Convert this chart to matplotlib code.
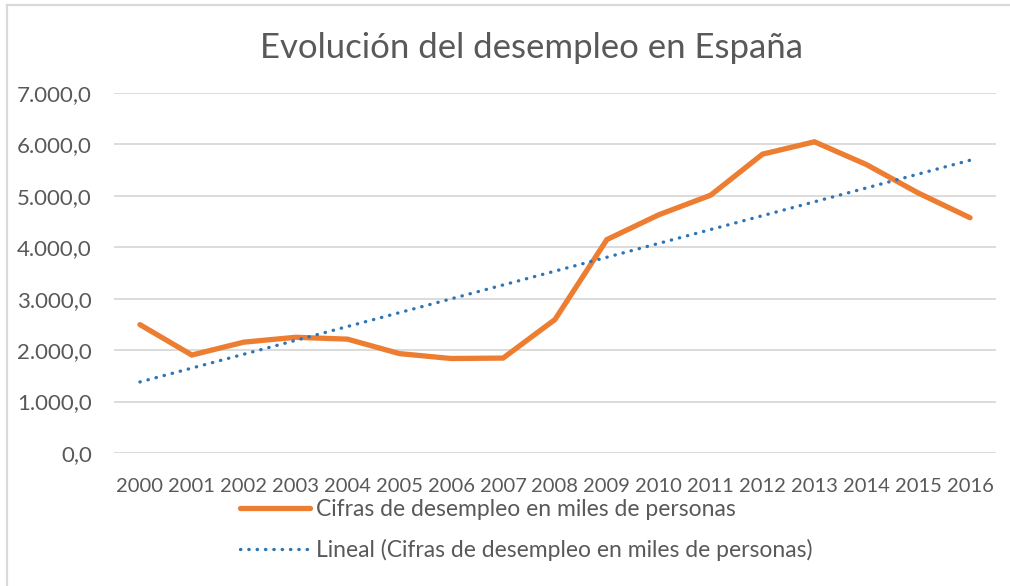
import numpy as np
import matplotlib
matplotlib.use('Agg')
from matplotlib import pyplot as plt
from matplotlib.lines import Line2D
from matplotlib.ticker import FuncFormatter

# Data: unemployment in Spain (thousands of people)
years = [2000, 2001, 2002, 2003, 2004, 2005, 2006, 2007, 2008,
         2009, 2010, 2011, 2012, 2013, 2014, 2015, 2016]
unemployed = [2496, 1905, 2155, 2250, 2214, 1933, 1837, 1846, 2596,
              4150, 4632, 5013, 5811, 6051, 5610, 5056, 4574]
y_ticks = [0, 1000, 2000, 3000, 4000, 5000, 6000, 7000]

series_label = 'Cifras de desempleo en miles de personas'
trend_label = 'Lineal (Cifras de desempleo en miles de personas)'
title = 'Evolución del desempleo en España'

orange = '#ED7D31'
blue = '#2E75B6'
text_gray = '#595959'
grid_gray = '#D9D9D9'
dots = (0, (0.1, 2.4))

plt.rcParams['font.family'] = ['Lato', 'DejaVu Sans']

W, H = 1010, 586
fig = plt.figure(figsize=(W / 100, H / 100), dpi=100)
ax = fig.add_axes([114 / W, 1 - 453 / H, (996 - 114) / W, (453 - 93) / H])

x = np.arange(len(years))
ax.plot(x, unemployed, color=orange, lw=3.8, solid_capstyle='round',
        solid_joinstyle='miter', zorder=3)

# linear trendline fitted on the series
coef = np.polyfit(x, unemployed, 1)
ax.plot(x, np.polyval(coef, x), color=blue, lw=2.4, linestyle=dots,
        dash_capstyle='round', zorder=4)

ax.set_xlim(-0.5, len(years) - 0.5)
ax.set_ylim(0, 7000)
ax.set_yticks(y_ticks)
ax.yaxis.set_major_formatter(FuncFormatter(
    lambda v, p: '{:,.1f}'.format(v).replace(',', 'X').replace('.', ',').replace('X', '.')))
ax.set_xticks(x)
ax.set_xticklabels([str(y) for y in years])
ax.grid(axis='y', color=grid_gray, lw=1.3)
ax.set_axisbelow(True)
for s in ax.spines.values():
    s.set_visible(False)
ax.tick_params(length=0, colors=text_gray)
ax.tick_params(axis='x', labelsize=14.5, pad=18)
ax.tick_params(axis='y', labelsize=16, pad=16)

fig.text(531 / W, 1 - 48 / H, title, ha='center', va='center',
         fontsize=25, color=text_gray)

handles = [Line2D([], [], color=orange, lw=3.8, solid_capstyle='round'),
           Line2D([], [], color=blue, lw=2.4, linestyle=dots,
                  dash_capstyle='round')]
fig.legend(handles, [series_label, trend_label], loc='center left',
           bbox_to_anchor=(240 / W, 1 - 530 / H), frameon=False,
           borderaxespad=0, borderpad=0,
           fontsize=16.5, labelcolor=text_gray, handlelength=3.05,
           handletextpad=0.25, labelspacing=0.8)

# outer chart border (partially visible)
fig.add_artist(Line2D([7 / W, 7 / W], [0, 1 - 5 / H], color=grid_gray, lw=1.6))
fig.add_artist(Line2D([7 / W, 1], [1 - 5 / H, 1 - 5 / H], color=grid_gray, lw=1.6))

fig.savefig('out.png', dpi=100)
